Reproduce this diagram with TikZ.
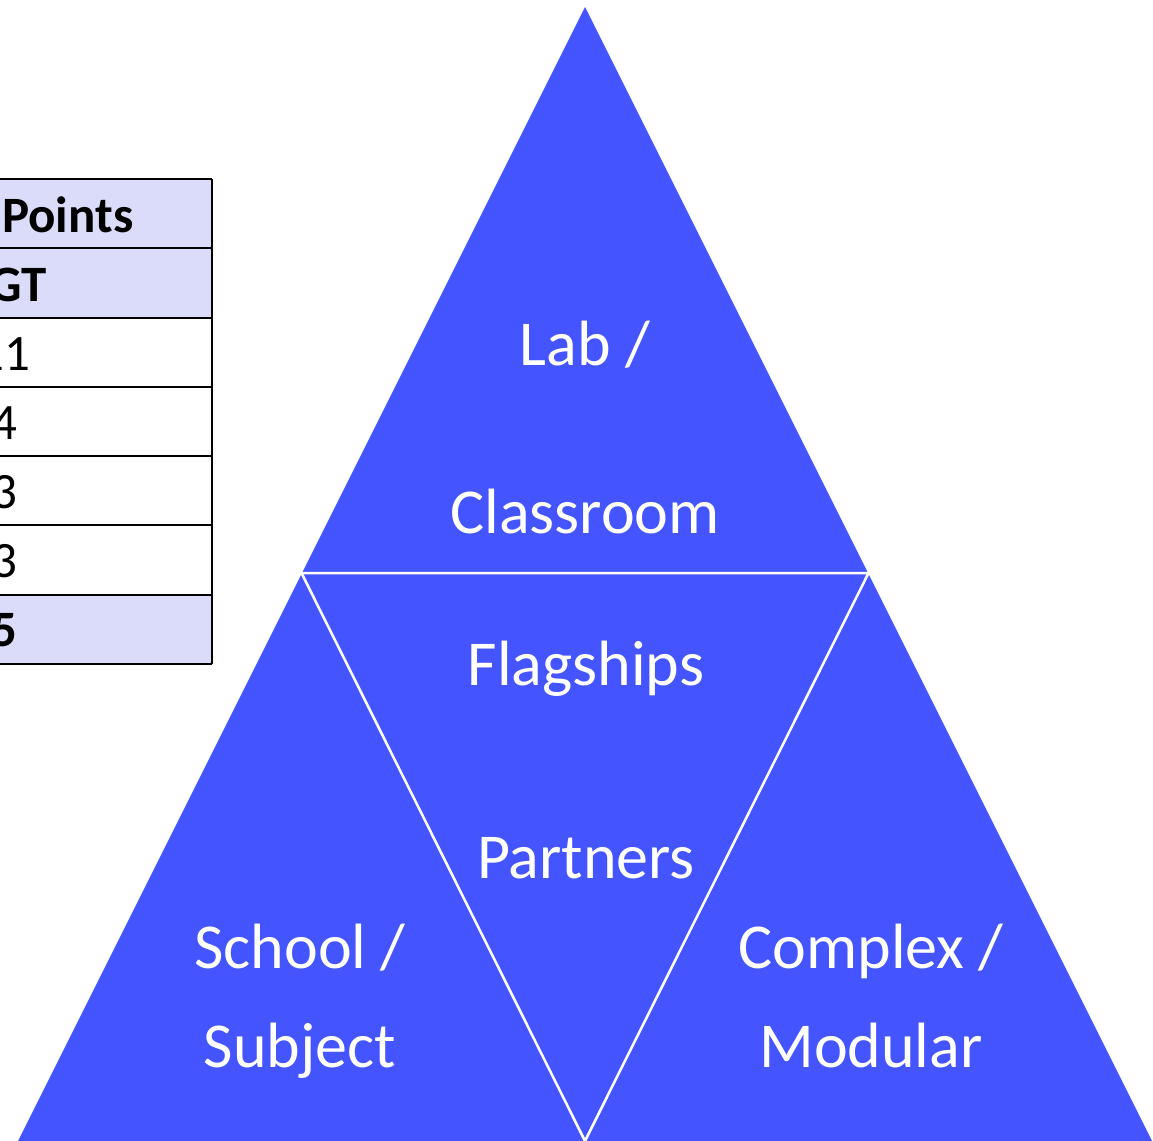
\documentclass[tikz,border=0pt]{standalone}
\usepackage{fontspec}
\setmainfont{Carlito}
\definecolor{triblue}{RGB}{68,85,255}
\definecolor{lav}{RGB}{218,220,250}
\begin{document}
\begin{tikzpicture}[x=1pt,y=-1pt,
  lbl/.style={text=white,font=\fontsize{64}{70}\selectfont,anchor=base,inner sep=0pt},
  tbold/.style={font=\bfseries\fontsize{51}{57}\selectfont,inner sep=0pt},
  tnum/.style={font=\fontsize{51}{57}\selectfont,anchor=base,inner sep=0pt},
  rule/.style={draw=black,line width=2.8pt}]
\useasboundingbox (0,0) rectangle (1153,1140);
\clip (0,0) rectangle (1153,1140);
% pyramid
\coordinate (A) at (585,7);
\coordinate (BL) at (18,1141);
\coordinate (BR) at (1152,1141);
\coordinate (ML) at (301.5,573);
\coordinate (MR) at (868.5,573);
\coordinate (MB) at (585,1141);
\fill[triblue] (A) -- (BL) -- (BR) -- cycle;
\draw[white,line width=2.5pt,line join=miter] (ML) -- (MR) -- (MB) -- cycle;
% table
\fill[lav] (-5,179) rectangle (212,318);
\fill[white] (-5,318) rectangle (212,595);
\fill[lav] (-5,595) rectangle (212,664);
\foreach \yy in {179,248,318,387,456,525,595,664}{
  \draw[rule] (-5,\yy) -- (212,\yy);
}
\draw[rule] (212,179) -- (212,664);
\node[tbold,anchor=base west] (points) at (2,232) {Points};
\node[tbold,anchor=base west] (gt) at (-11,301) {GT};
\node[tnum] (n1) at (4,370) {11};
\node[tnum] (n2) at (4,439) {4};
\node[tnum] (n3) at (4,508) {3};
\node[tnum] (n4) at (4,577) {3};
\node[tbold,anchor=base] (n5) at (4,646) {5};
% labels
\node[lbl] (lab) at (585,365) {Lab /};
\node[lbl] (class) at (585,533) {Classroom};
\node[lbl] (flag) at (586,685) {Flagships};
\node[lbl] (part) at (586,878) {Partners};
\node[lbl] (school) at (300,968) {School /};
\node[lbl] (subj) at (300,1067) {Subject};
\node[lbl] (compl) at (871,968) {Complex /};
\node[lbl] (mod) at (871,1067) {Modular};
\end{tikzpicture}
\end{document}
